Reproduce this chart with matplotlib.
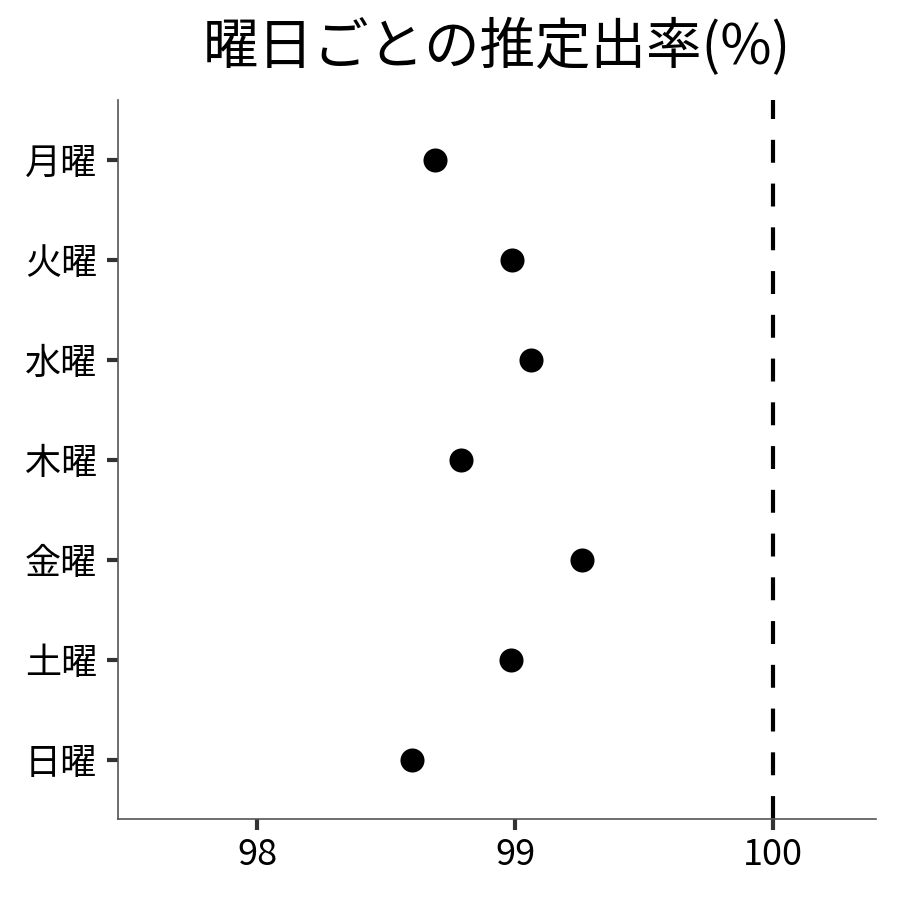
import matplotlib
matplotlib.use('Agg')
import matplotlib.pyplot as plt

plt.rcParams['font.family'] = ['Noto Sans CJK JP', 'DejaVu Sans']

days = ['月曜', '火曜', '水曜', '木曜', '金曜', '土曜', '日曜']
rates = [98.69, 98.99, 99.06, 98.79, 99.26, 98.985, 98.60]
xticks = [98, 99, 100]
ref_line = 100

fig = plt.figure(figsize=(9, 9), dpi=100)
ax = fig.add_axes([118/900, 1 - 819/900, (876 - 118)/900, (819 - 100)/900])

ypos = list(range(len(days), 0, -1))
ax.scatter(rates, ypos, s=300, color='black', zorder=3, linewidths=0)
ax.axvline(ref_line, color='black', linestyle=(0, (5.5, 5)), linewidth=3)

ax.set_xlim(97.46, 100.4)
ax.set_ylim(0.41, 7.6)
ax.set_xticks(xticks)
ax.set_xticklabels([str(t) for t in xticks])
ax.set_yticks(ypos)
ax.set_yticklabels(days)

for s in ['top', 'right']:
    ax.spines[s].set_visible(False)
for s in ['left', 'bottom']:
    ax.spines[s].set_color('#555555')
    ax.spines[s].set_linewidth(1.2)
ax.tick_params(axis='both', length=8, width=3, color='#333333', labelcolor='black', pad=6)
ax.tick_params(axis='x', labelsize=26, pad=5)
ax.tick_params(axis='y', labelsize=26, pad=7)

ax.set_title('曜日ごとの推定出率(%)', fontsize=40, pad=26)

fig.savefig('out.png', dpi=100)
